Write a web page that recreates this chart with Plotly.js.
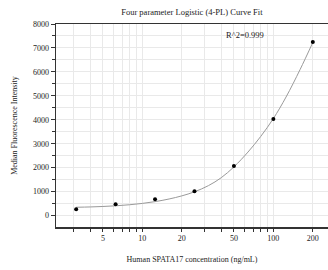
<!DOCTYPE html>
<html>
<head>
<meta charset="utf-8">
<script src="https://cdn.plot.ly/plotly-3.0.1.min.js"></script>
<style>html,body{margin:0;padding:0;background:#fff;}#chart{width:328px;height:270px;}</style>
</head>
<body>
<div id="chart"></div>
<script>
// Measured standards
const concentrations = [3.125, 6.25, 12.5, 25, 50, 100, 200];
const mfiValues = [265, 475, 680, 1015, 2070, 4030, 7250];

// Fitted curve
const curveX = [3.125, 4, 5, 6.25, 8, 10, 12.5, 16, 20, 25, 32, 40, 50, 64, 80, 100, 125, 160, 200];
const curveY = [345, 358, 377, 405, 450, 505, 580, 690, 820, 990, 1250, 1580, 2030, 2650, 3300, 4050, 4950, 6100, 7230];

// Tick labels
const xTickVals = [5, 10, 20, 50, 100, 200];
const xTickText = ['5', '10', '20', '50', '100', '200'];
const xMinorVals = [3, 4, 6, 7, 8, 9, 30, 40, 60, 70, 80, 90];

const serif = 'Liberation Serif, Times New Roman, serif';

const traces = [
  {
    x: curveX, y: curveY, type: 'scatter', mode: 'lines',
    line: {color: '#9a9a9a', width: 1, shape: 'spline'},
    hoverinfo: 'skip', showlegend: false
  },
  {
    x: concentrations, y: mfiValues, type: 'scatter', mode: 'markers',
    marker: {color: '#000', size: 4},
    showlegend: false
  }
];

const layout = {
  width: 328, height: 270,
  margin: {l: 56, r: 0, t: 24, b: 43},
  paper_bgcolor: '#fff', plot_bgcolor: '#fff',
  font: {family: serif, size: 8, color: '#222'},
  title: {
    text: 'Four parameter Logistic (4-PL) Curve Fit',
    font: {family: serif, size: 8.5, color: '#222'},
    x: 0.585, xanchor: 'center', y: 0.956, yanchor: 'middle'
  },
  xaxis: {
    type: 'log',
    range: [0.341, 2.417],
    tickmode: 'array', tickvals: xTickVals, ticktext: xTickText,
    ticks: 'outside', ticklen: 3, tickwidth: 1, tickcolor: '#333',
    showgrid: true, gridcolor: '#e9e9e9', gridwidth: 1,
    minor: {tickmode: 'array', tickvals: xMinorVals, ticks: 'outside', ticklen: 3, tickcolor: '#333', showgrid: true, gridcolor: '#e9e9e9'},
    showline: true, linecolor: '#333', linewidth: 1.5, mirror: true,
    zeroline: false,
    tickfont: {family: serif, size: 8, color: '#222'},
    title: {text: 'Human SPATA17 concentration (ng/mL)', font: {family: serif, size: 8, color: '#222'}, standoff: 14}
  },
  yaxis: {
    range: [-480, 8000],
    tickmode: 'linear', tick0: 0, dtick: 1000,
    ticks: 'outside', ticklen: 4, tickwidth: 1, tickcolor: '#333',
    showgrid: true, gridcolor: '#e9e9e9',
    minor: {dtick: 500, tick0: 0, ticks: 'outside', ticklen: 3, tickcolor: '#333', showgrid: true, gridcolor: '#e9e9e9'},
    showline: true, linecolor: '#333', linewidth: 1.5,
    zeroline: false,
    tickfont: {family: serif, size: 8, color: '#222'},
    title: {text: 'Median Fluorescence Intensity', font: {family: serif, size: 8, color: '#222'}, standoff: 14}
  },
  annotations: [
    {
      text: 'R^2=0.999', xref: 'paper', yref: 'paper', x: 0.695, y: 0.946,
      xanchor: 'center', yanchor: 'middle', showarrow: false,
      font: {family: serif, size: 8.5, color: '#222'}
    }
  ]
};

Plotly.newPlot('chart', traces, layout, {displayModeBar: false, staticPlot: true});
</script>
</body>
</html>
